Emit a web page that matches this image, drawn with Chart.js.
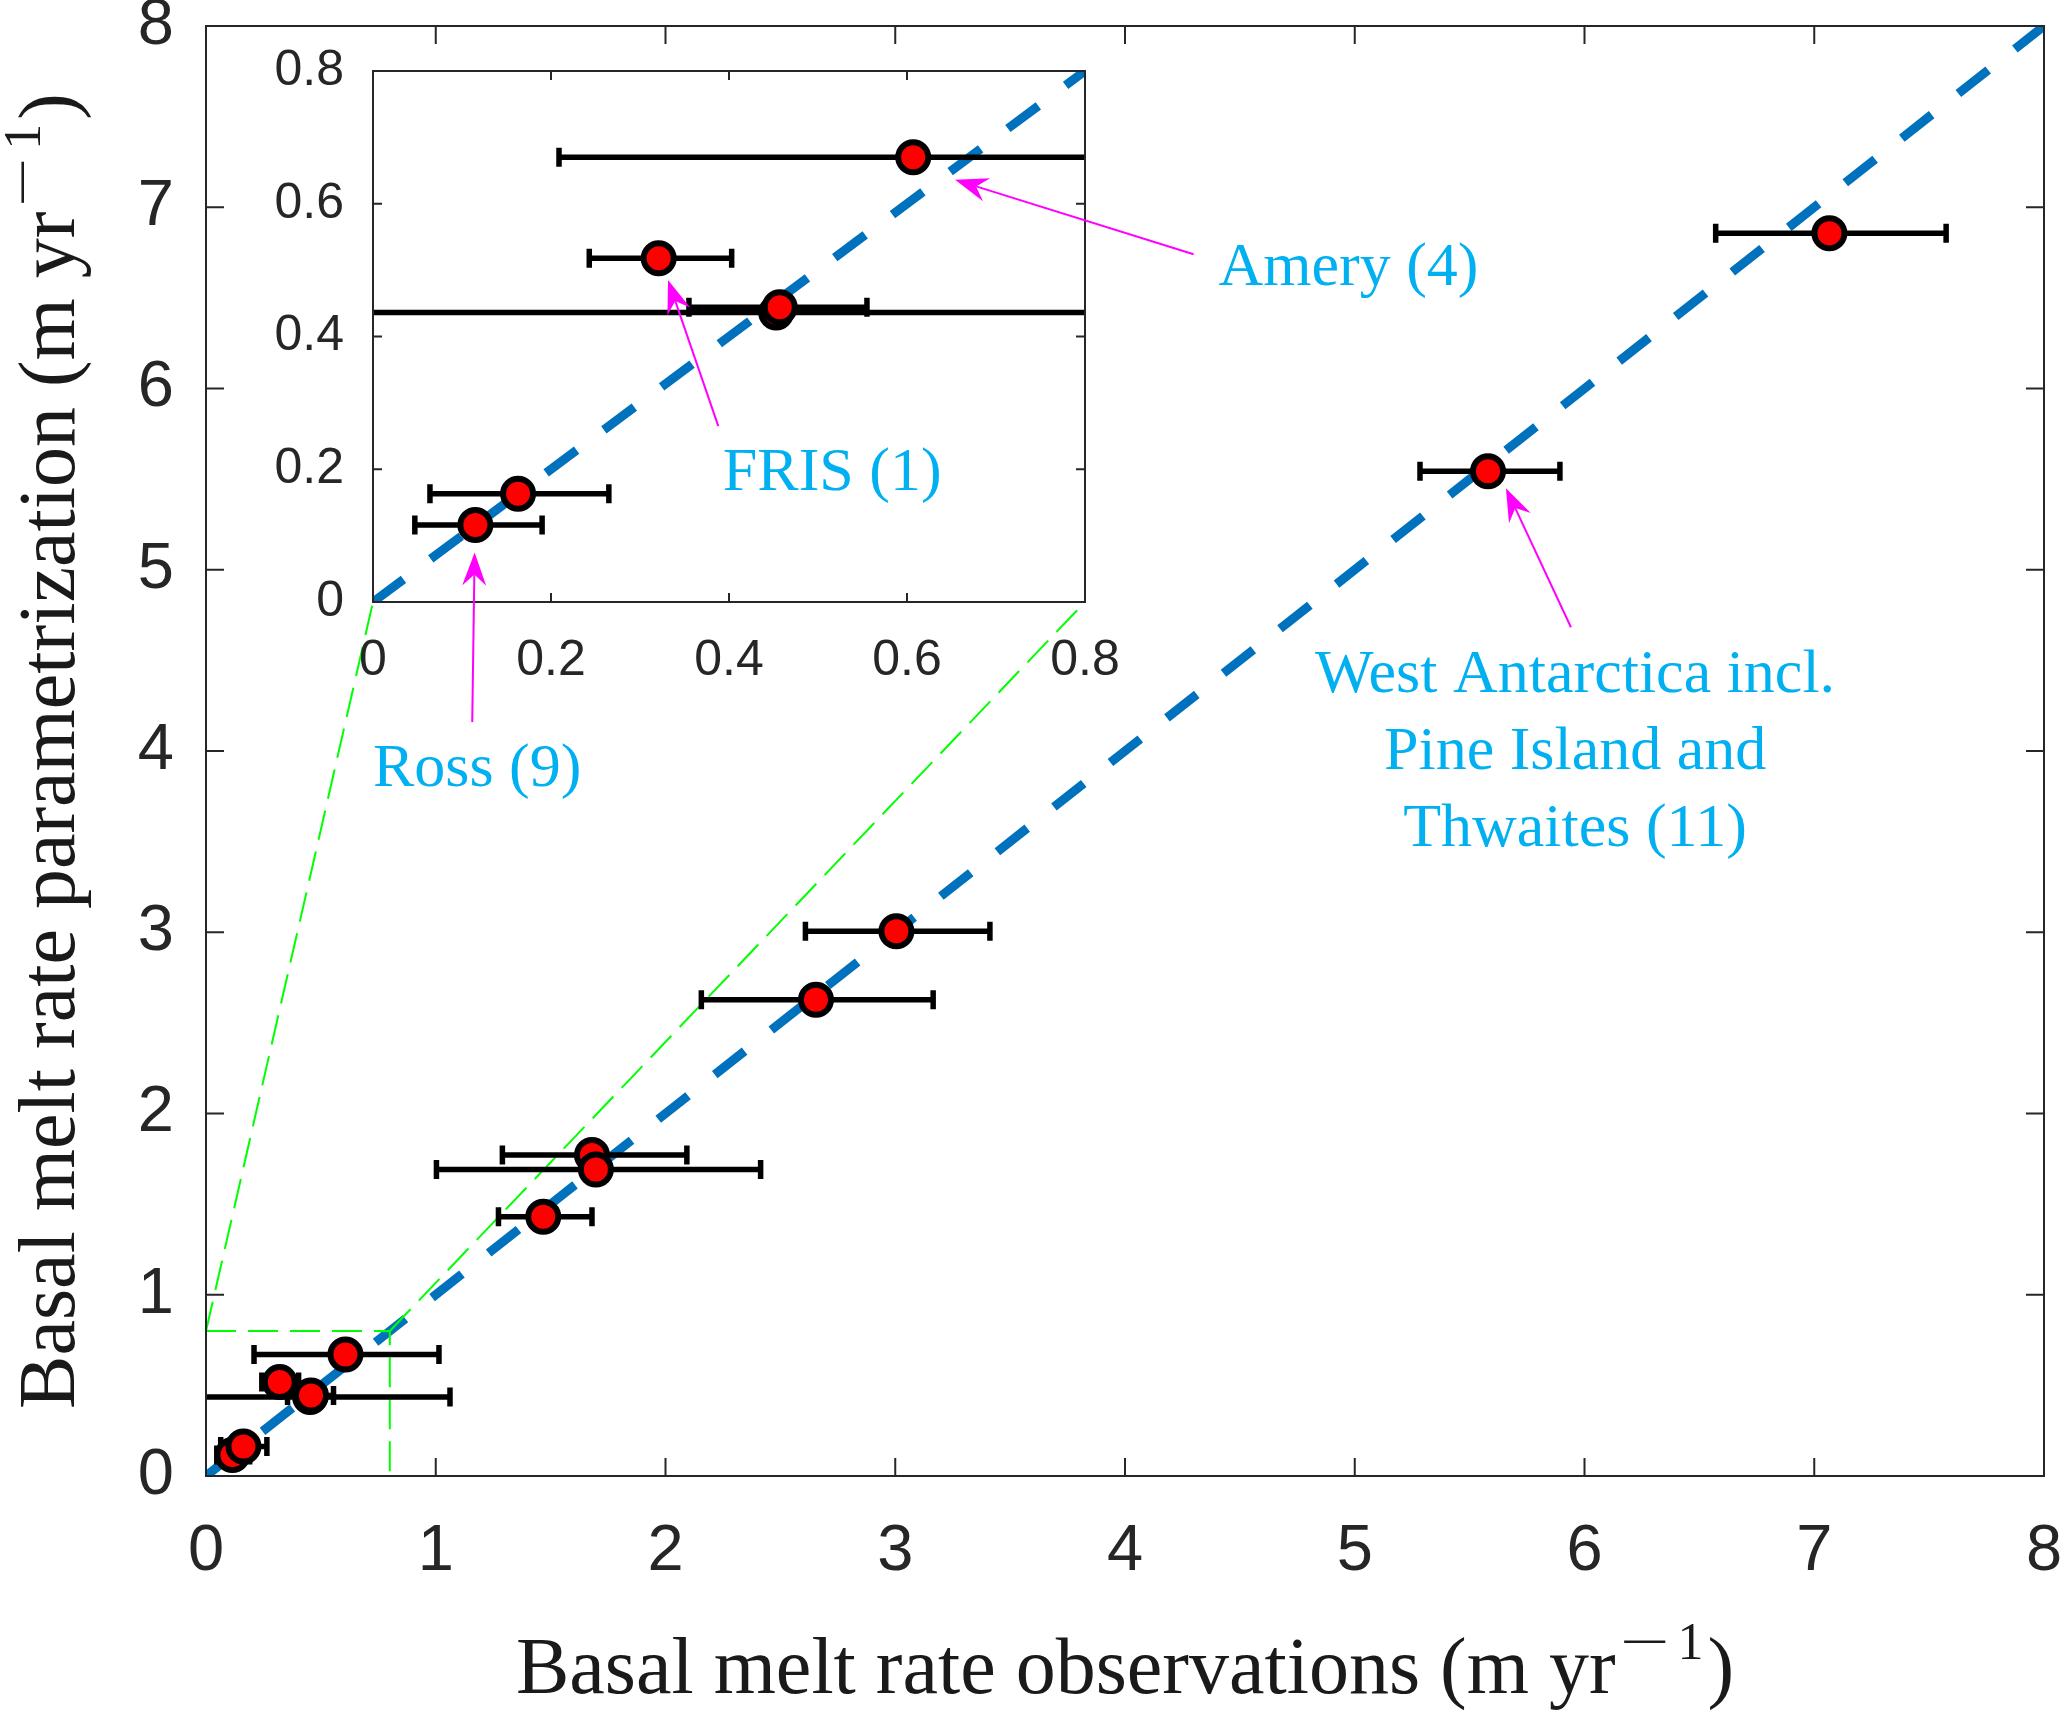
<!DOCTYPE html>
<html>
<head>
<meta charset="utf-8">
<title>Basal melt rate parametrization vs observations</title>
<script src="https://cdn.jsdelivr.net/npm/chart.js@4.4.0/dist/chart.umd.min.js"></script>
<style>
    html, body { margin: 0; padding: 0; background: #fff; }
    #wrap { position: relative; width: 2067px; height: 1714px; }
    #wrap canvas { position: absolute; left: 0; top: 0; }
</style>
</head>
<body>
<div id="wrap">
    <canvas id="mainChart" width="2067" height="1714"></canvas>
    <canvas id="insetChart" width="2067" height="1714"></canvas>
</div>
<script>
// values (m/yr)
const obsX    = [0.115, 0.163, 0.321, 0.453, 0.457, 0.607, 1.468, 1.680, 1.697, 2.655, 3.005, 5.580, 7.066];
const paramY  = [0.116, 0.163, 0.518, 0.436, 0.444, 0.670, 1.430, 1.771, 1.691, 2.628, 3.005, 5.543, 6.856];
const errLow  = [0.047, 0.064, 0.243, -0.156, 0.355, 0.209, 1.273, 1.290, 1.003, 2.156, 2.609, 5.284, 6.571];
const errHigh = [0.190, 0.265, 0.403, 1.062, 0.555, 1.014, 1.680, 2.093, 2.414, 3.165, 3.412, 5.893, 7.574];

const oneToOneX = [0, 8];
const oneToOneY = [0, 8];

const mainTicks = [0, 1, 2, 3, 4, 5, 6, 7, 8];
const mainTickLabels = ['0', '1', '2', '3', '4', '5', '6', '7', '8'];
const insetTicks = [0, 0.2, 0.4, 0.6, 0.8];
const insetTickLabels = ['0', '0.2', '0.4', '0.6', '0.8'];
const zoomRange = [0, 0.8];

// labels placed in inset data units
const insetLabels  = ['Amery (4)', 'FRIS (1)', 'Ross (9)'];
const insetLabelX  = [1.096, 0.516, 0.117];
const insetLabelY  = [0.478, 0.168, -0.277];
const insetArrowX0 = [0.922, 0.388, 0.1115];
const insetArrowY0 = [0.524, 0.265, -0.181];
const insetArrowX1 = [0.654, 0.3315, 0.1142];
const insetArrowY1 = [0.636, 0.485, 0.0744];

// label placed in main data units
const westLines  = ['West Antarctica incl.', 'Pine Island and', 'Thwaites (11)'];
const westLabelX = 5.959;
const westLabelY = [4.324, 3.900, 3.475];
const westArrowX = [5.941, 5.658];
const westArrowY = [4.683, 5.450];

const points = obsX.map((x, i) => ({ x: x, y: paramY[i] }));
const oneToOne = oneToOneX.map((x, i) => ({ x: x, y: oneToOneY[i] }));

const AXIS_COLOR = '#262626';
const NOTE_COLOR = '#00b0f0';
const ARROW_COLOR = '#ff00ff';

let mainChart, insetChart;

function drawArrow(ctx, x0, y0, x1, y1) {
    const ang = Math.atan2(y1 - y0, x1 - x0);
    const headLen = 33, halfW = 12, notch = 22;
    ctx.save();
    ctx.strokeStyle = ARROW_COLOR;
    ctx.fillStyle = ARROW_COLOR;
    ctx.lineWidth = 2;
    ctx.beginPath();
    ctx.moveTo(x0, y0);
    ctx.lineTo(x1 - notch * Math.cos(ang), y1 - notch * Math.sin(ang));
    ctx.stroke();
    ctx.translate(x1, y1);
    ctx.rotate(ang);
    ctx.beginPath();
    ctx.moveTo(0, 0);
    ctx.lineTo(-headLen, -halfW);
    ctx.lineTo(-notch, 0);
    ctx.lineTo(-headLen, halfW);
    ctx.closePath();
    ctx.fill();
    ctx.restore();
}

// "<lead>(m yr" + superscript "-1" + ")" centred on cx
function drawUnitTitle(ctx, lead, cx, baseY) {
    const big = '80px "Liberation Serif"';
    const small = '52px "Liberation Serif"';
    ctx.font = big;
    const wLead = ctx.measureText(lead).width;
    const wClose = ctx.measureText(')').width;
    ctx.font = small;
    const wMinus = ctx.measureText('\u2212').width * 1.7;
    const wOne = ctx.measureText('1').width;
    const total = wLead + 4 + wMinus + 8 + wOne + 4 + wClose;
    let x = cx - total / 2;
    ctx.textAlign = 'left';
    ctx.textBaseline = 'alphabetic';
    ctx.font = big;
    ctx.fillText(lead, x, baseY);
    x += wLead + 4;
    ctx.font = small;
    ctx.save();
    ctx.translate(x, baseY - 34);
    ctx.scale(1.7, 1);
    ctx.fillText('\u2212', 0, 0);
    ctx.restore();
    x += wMinus + 8;
    ctx.fillText('1', x, baseY - 34);
    x += wOne + 4;
    ctx.font = big;
    ctx.fillText(')', x, baseY);
}

const axesBox = {
    id: 'axesBox',
    beforeDraw(chart, args, opts) {
        if (!opts.fill) return;
        const a = chart.chartArea;
        chart.ctx.save();
        chart.ctx.fillStyle = '#fff';
        chart.ctx.fillRect(a.left, a.top, a.right - a.left, a.bottom - a.top);
        chart.ctx.restore();
    },
    afterDatasetsDraw(chart, args, opts) {
        const { ctx, chartArea: a, scales: { x, y } } = chart;
        ctx.save();
        ctx.strokeStyle = AXIS_COLOR;
        ctx.lineWidth = 2;
        ctx.strokeRect(a.left, a.top, a.right - a.left, a.bottom - a.top);
        ctx.beginPath();
        x.ticks.forEach(t => {
            const px = x.getPixelForValue(t.value);
            ctx.moveTo(px, a.bottom); ctx.lineTo(px, a.bottom - opts.len);
            ctx.moveTo(px, a.top); ctx.lineTo(px, a.top + opts.len);
        });
        y.ticks.forEach(t => {
            const py = y.getPixelForValue(t.value);
            ctx.moveTo(a.left, py); ctx.lineTo(a.left + opts.len, py);
            ctx.moveTo(a.right, py); ctx.lineTo(a.right - opts.len, py);
        });
        ctx.stroke();
        ctx.restore();
    }
};

// green dashed outline of the zoomed region and its connectors to the inset
const zoomGuide = {
    id: 'zoomGuide',
    beforeDatasetDraw(chart, args) {
        if (args.index !== 0 || !insetChart) return;
        const { ctx, scales: { x, y } } = chart;
        const ix = insetChart.scales.x, iy = insetChart.scales.y;
        const lo = zoomRange[0], hi = zoomRange[1];
        ctx.save();
        ctx.strokeStyle = '#00ff00';
        ctx.lineWidth = 2;
        ctx.setLineDash([30, 12]);
        ctx.beginPath();
        ctx.moveTo(x.getPixelForValue(lo), y.getPixelForValue(hi));
        ctx.lineTo(x.getPixelForValue(hi), y.getPixelForValue(hi));
        ctx.lineTo(x.getPixelForValue(hi), y.getPixelForValue(lo));
        ctx.moveTo(x.getPixelForValue(lo), y.getPixelForValue(hi));
        ctx.lineTo(ix.getPixelForValue(lo), iy.getPixelForValue(lo));
        ctx.moveTo(x.getPixelForValue(hi), y.getPixelForValue(hi));
        ctx.lineTo(ix.getPixelForValue(hi), iy.getPixelForValue(lo));
        ctx.stroke();
        ctx.restore();
    }
};

const errorBars = {
    id: 'errorBars',
    beforeDatasetDraw(chart, args) {
        if (args.index !== 0) return;
        const { ctx, chartArea: a, scales: { x, y } } = chart;
        ctx.save();
        ctx.beginPath();
        ctx.rect(a.left, a.top, a.right - a.left, a.bottom - a.top);
        ctx.clip();
        ctx.strokeStyle = '#000';
        ctx.lineWidth = 5.5;
        ctx.lineCap = 'butt';
        ctx.beginPath();
        for (let i = 0; i < obsX.length; i++) {
            const py = y.getPixelForValue(paramY[i]);
            const x0 = x.getPixelForValue(errLow[i]);
            const x1 = x.getPixelForValue(errHigh[i]);
            ctx.moveTo(x0, py); ctx.lineTo(x1, py);
            ctx.moveTo(x0, py - 9.5); ctx.lineTo(x0, py + 9.5);
            ctx.moveTo(x1, py - 9.5); ctx.lineTo(x1, py + 9.5);
        }
        ctx.stroke();
        ctx.restore();
    }
};

const mainNotes = {
    id: 'mainNotes',
    afterDraw(chart) {
        const { ctx, chartArea: a, scales: { x, y } } = chart;
        ctx.save();
        ctx.fillStyle = '#1a1a1a';
        drawUnitTitle(ctx, 'Basal melt rate observations (m yr', (a.left + a.right) / 2, 1693);
        ctx.save();
        ctx.translate(74, (a.top + a.bottom) / 2);
        ctx.rotate(-Math.PI / 2);
        drawUnitTitle(ctx, 'Basal melt rate parametrization (m yr', 0, 0);
        ctx.restore();

        drawArrow(ctx, x.getPixelForValue(westArrowX[0]), y.getPixelForValue(westArrowY[0]),
                  x.getPixelForValue(westArrowX[1]), y.getPixelForValue(westArrowY[1]));
        ctx.fillStyle = NOTE_COLOR;
        ctx.font = '62px "Liberation Serif"';
        ctx.textAlign = 'center';
        ctx.textBaseline = 'alphabetic';
        westLines.forEach((line, i) => {
            ctx.fillText(line, x.getPixelForValue(westLabelX), y.getPixelForValue(westLabelY[i]));
        });
        ctx.restore();
    }
};

const insetNotes = {
    id: 'insetNotes',
    afterDraw(chart) {
        const { ctx, scales: { x, y } } = chart;
        ctx.save();
        for (let i = 0; i < insetLabels.length; i++) {
            drawArrow(ctx, x.getPixelForValue(insetArrowX0[i]), y.getPixelForValue(insetArrowY0[i]),
                      x.getPixelForValue(insetArrowX1[i]), y.getPixelForValue(insetArrowY1[i]));
        }
        ctx.fillStyle = NOTE_COLOR;
        ctx.font = '62px "Liberation Serif"';
        ctx.textAlign = 'center';
        ctx.textBaseline = 'alphabetic';
        insetLabels.forEach((label, i) => {
            ctx.fillText(label, x.getPixelForValue(insetLabelX[i]), y.getPixelForValue(insetLabelY[i]));
        });
        ctx.restore();
    }
};

function buildConfig(opt) {
    const tickFont = { family: 'Liberation Sans', size: opt.fontSize };
    return {
        type: 'scatter',
        data: {
            datasets: [
                {
                    data: points,
                    pointRadius: 15,
                    pointHoverRadius: 15,
                    pointBorderWidth: 6,
                    pointBackgroundColor: '#ff0000',
                    pointBorderColor: '#000',
                    order: 0
                },
                {
                    type: 'line',
                    data: oneToOne,
                    borderColor: '#0072bd',
                    borderWidth: 9,
                    borderDash: [38, 34],
                    borderCapStyle: 'butt',
                    pointRadius: 0,
                    fill: false,
                    clip: 0,
                    order: 1
                }
            ]
        },
        options: {
            responsive: false,
            animation: false,
            devicePixelRatio: 1,
            events: [],
            layout: { padding: opt.padding },
            plugins: {
                legend: { display: false },
                tooltip: { enabled: false },
                axesBox: { len: opt.tickLen, fill: opt.fill }
            },
            scales: {
                x: {
                    type: 'linear',
                    min: opt.ticks[0],
                    max: opt.ticks[opt.ticks.length - 1],
                    grid: { display: false },
                    border: { display: false },
                    ticks: {
                        font: tickFont,
                        color: AXIS_COLOR,
                        padding: opt.xPad,
                        maxRotation: 0,
                        autoSkip: false,
                        callback: (v, i) => opt.labels[i]
                    },
                    afterBuildTicks: s => { s.ticks = opt.ticks.map(v => ({ value: v })); },
                    afterFit: s => { s.height = opt.xHeight; s.paddingLeft = 0; s.paddingRight = 0; }
                },
                y: {
                    type: 'linear',
                    min: opt.ticks[0],
                    max: opt.ticks[opt.ticks.length - 1],
                    grid: { display: false },
                    border: { display: false },
                    ticks: {
                        font: tickFont,
                        color: AXIS_COLOR,
                        padding: opt.yPad,
                        autoSkip: false,
                        callback: (v, i) => opt.labels[i]
                    },
                    afterBuildTicks: s => { s.ticks = opt.ticks.map(v => ({ value: v })); },
                    afterFit: s => { s.width = opt.yWidth; s.paddingTop = 0; s.paddingBottom = 0; }
                }
            }
        },
        plugins: opt.plugins
    };
}

document.addEventListener('DOMContentLoaded', () => {
    insetChart = new Chart(document.getElementById('insetChart'), buildConfig({
        ticks: insetTicks,
        labels: insetTickLabels,
        fontSize: 50,
        padding: { left: 0, top: 71, right: 982, bottom: 0 },
        yWidth: 373,
        xHeight: 1112,
        xPad: 21,
        yPad: 21,
        tickLen: 9,
        fill: true,
        plugins: [axesBox, errorBars, insetNotes]
    }));

    mainChart = new Chart(document.getElementById('mainChart'), buildConfig({
        ticks: mainTicks,
        labels: mainTickLabels,
        fontSize: 65,
        padding: { left: 0, top: 26, right: 23, bottom: 0 },
        yWidth: 206,
        xHeight: 238,
        xPad: 29,
        yPad: 24,
        tickLen: 18,
        fill: false,
        plugins: [axesBox, zoomGuide, errorBars, mainNotes]
    }));
});
</script>
</body>
</html>
